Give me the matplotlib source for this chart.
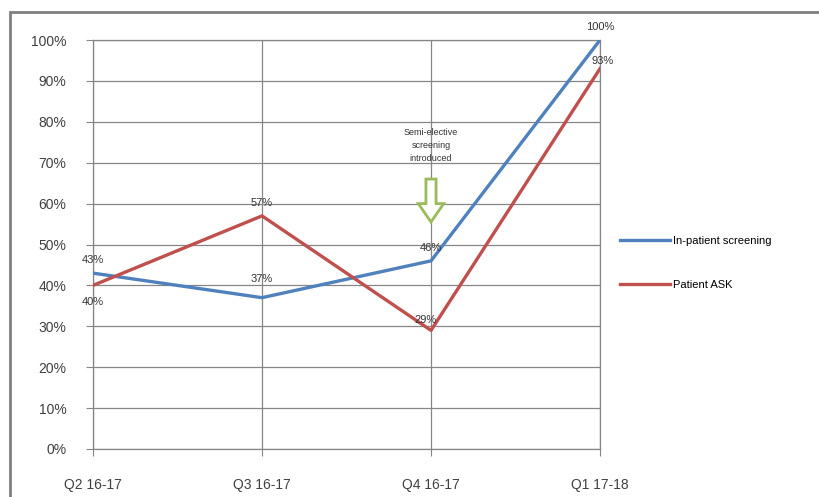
import matplotlib.pyplot as plt
from matplotlib.patches import FancyArrow, Rectangle

quarters = ['Q2 16-17', 'Q3 16-17', 'Q4 16-17', 'Q1 17-18']
inpatient = [43, 37, 46, 100]
patient_ask = [40, 57, 29, 93]
inpatient_labels = ['43%', '37%', '46%', '100%']
ask_labels = ['40%', '57%', '29%', '93%']

plt.rcParams['font.family'] = ['Liberation Sans', 'DejaVu Sans']

fig = plt.figure(figsize=(8.19, 4.97), dpi=100)
ax = fig.add_axes([93 / 819, 48 / 497, 507 / 819, 409 / 497])

x = range(len(quarters))
ax.plot(x, inpatient, color='#4f81bd', lw=2.4, label='In-patient screening', zorder=3)
ax.plot(x, patient_ask, color='#c0504d', lw=2.4, label='Patient ASK', zorder=3)

ax.set_xlim(0, 3)
ax.set_ylim(0, 100)
ax.set_yticks(range(0, 101, 10))
ax.set_yticklabels([f'{v}%' for v in range(0, 101, 10)])
ax.set_xticks(list(x))
ax.set_xticklabels(quarters)
ax.grid(True, color='#868686', lw=0.9)
ax.set_axisbelow(True)
for s in ax.spines.values():
    s.set_color('#868686')
    s.set_linewidth(0.9)
ax.tick_params(axis='both', colors='#868686', labelcolor='#404040', labelsize=10, length=5)
ax.tick_params(axis='x', pad=16)
ax.tick_params(axis='y', pad=14)

# data labels
lab = dict(fontsize=8, color='#333333', ha='center', zorder=5)
ax.annotate(inpatient_labels[0], (0, inpatient[0]), xytext=(0, 6), textcoords='offset points', va='bottom', **lab)
ax.annotate(ask_labels[0], (0, patient_ask[0]), xytext=(0, -8), textcoords='offset points', va='top', **lab)
ax.annotate(inpatient_labels[1], (1, inpatient[1]), xytext=(0, 10), textcoords='offset points', va='bottom', **lab)
ax.annotate(ask_labels[1], (1, patient_ask[1]), xytext=(0, 6), textcoords='offset points', va='bottom', **lab)
ax.annotate(inpatient_labels[2], (2, inpatient[2]), xytext=(0, 6), textcoords='offset points', va='bottom', **lab)
ax.annotate(ask_labels[2], (2, patient_ask[2]), xytext=(-4, 4), textcoords='offset points', va='bottom', **lab)
ax.annotate(inpatient_labels[3], (3, inpatient[3]), xytext=(0, 6), textcoords='offset points', va='bottom', clip_on=False, **lab)
ax.annotate(ask_labels[3], (3, patient_ask[3]), xytext=(2, 2), textcoords='offset points', va='bottom', **lab)

# annotation for Q4
ax.text(2, 78.5, 'Semi-elective\nscreening\nintroduced', ha='center', va='top',
        fontsize=6.5, color='#333333', linespacing=1.6, zorder=5)
ax.add_patch(FancyArrow(2, 66, 0, -10.5, width=0.06, head_width=0.15, head_length=4.5,
                        length_includes_head=True, facecolor='white', edgecolor='#9bbb59',
                        lw=2, zorder=4))

ax.legend(loc='center left', bbox_to_anchor=(1.02, 0.455), frameon=False,
          fontsize=8, labelspacing=3.0, handlelength=4.5, handletextpad=0.3)

fig.patches.append(Rectangle((10 / 819, -0.01), 1.0, 1 - 12 / 497 + 0.01, transform=fig.transFigure,
                             fill=False, edgecolor='#7f7f7f', lw=2))

fig.savefig('out.png', dpi=100)
